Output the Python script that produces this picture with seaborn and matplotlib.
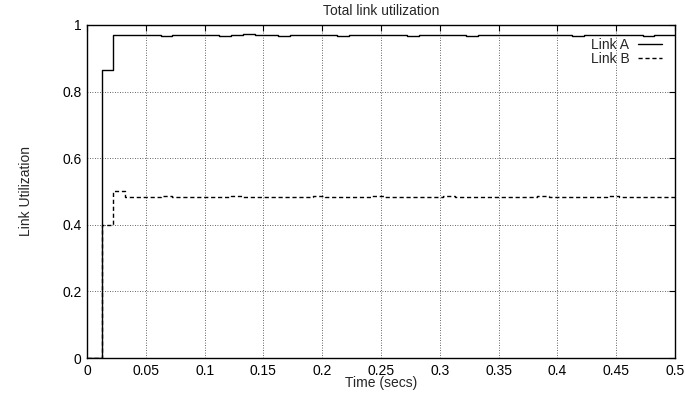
import matplotlib
matplotlib.use("Agg")
import matplotlib.pyplot as plt
import seaborn as sns
import pandas as pd

times = [0, 0.0125, 0.0225, 0.0325, 0.0425, 0.0525, 0.0625, 0.0725, 0.0825, 0.0925,
         0.1025, 0.1125, 0.1225, 0.1325, 0.1425, 0.1525, 0.1625, 0.1725, 0.1825, 0.1925,
         0.2025, 0.2125, 0.2225, 0.2325, 0.2425, 0.2525, 0.2625, 0.2725, 0.2825, 0.2925,
         0.3025, 0.3125, 0.3225, 0.3325, 0.3425, 0.3525, 0.3625, 0.3725, 0.3825, 0.3925,
         0.4025, 0.4125, 0.4225, 0.4325, 0.4425, 0.4525, 0.4625, 0.4725, 0.4825, 0.4925,
         0.5]
link_a = [0, 0.865, 0.970, 0.969, 0.971, 0.970, 0.968, 0.970, 0.971, 0.970,
          0.969, 0.967, 0.970, 0.972, 0.969, 0.970, 0.968, 0.970, 0.971, 0.969,
          0.970, 0.968, 0.970, 0.971, 0.970, 0.969, 0.970, 0.968, 0.971, 0.970,
          0.969, 0.970, 0.968, 0.970, 0.971, 0.970, 0.969, 0.970, 0.971, 0.969,
          0.970, 0.968, 0.971, 0.970, 0.969, 0.971, 0.970, 0.968, 0.970, 0.969,
          0.969]
link_b = [0, 0.400, 0.503, 0.482, 0.484, 0.483, 0.485, 0.482, 0.483, 0.484,
          0.482, 0.483, 0.485, 0.484, 0.482, 0.483, 0.484, 0.482, 0.483, 0.485,
          0.483, 0.482, 0.484, 0.483, 0.485, 0.482, 0.483, 0.484, 0.482, 0.483,
          0.485, 0.483, 0.482, 0.484, 0.483, 0.482, 0.484, 0.483, 0.485, 0.482,
          0.483, 0.484, 0.482, 0.483, 0.485, 0.484, 0.482, 0.483, 0.484, 0.482,
          0.482]
series_labels = ["Link A", "Link B"]
x_ticks = [0, 0.05, 0.1, 0.15, 0.2, 0.25, 0.3, 0.35, 0.4, 0.45, 0.5]
x_tick_labels = ["0", "0.05", "0.1", "0.15", "0.2", "0.25", "0.3", "0.35", "0.4", "0.45", "0.5"]
y_ticks = [0, 0.2, 0.4, 0.6, 0.8, 1.0]
y_tick_labels = ["0", "0.2", "0.4", "0.6", "0.8", "1"]

sns.set_style("white")
plt.rcParams["font.family"] = ["Liberation Sans", "DejaVu Sans"]
plt.rcParams["font.size"] = 10

fig = plt.figure(figsize=(6.85, 3.93), dpi=100)
ax = fig.add_axes([87 / 685, 35 / 393, 588 / 685, 333 / 393])

df = pd.DataFrame({"t": times, "a": link_a, "b": link_b})
sns.lineplot(data=df, x="t", y="a", ax=ax, color="black", linewidth=1.0,
             drawstyle="steps-post", label=series_labels[0], estimator=None)
sns.lineplot(data=df, x="t", y="b", ax=ax, color="black", linewidth=1.0,
             linestyle=(0, (3, 2)), drawstyle="steps-post", label=series_labels[1],
             estimator=None)

ax.set_xlim(0, 0.5)
ax.set_ylim(0, 1)
ax.set_xticks(x_ticks)
ax.set_xticklabels(x_tick_labels)
ax.set_yticks(y_ticks)
ax.set_yticklabels(y_tick_labels)
ax.tick_params(direction="in", top=True, right=True, length=4, width=0.8,
               labelsize=10, pad=4, colors="black")
ax.grid(True, linestyle=(0, (1, 2)), color="black", linewidth=0.6, alpha=0.8)
for s in ax.spines.values():
    s.set_color("black")
    s.set_linewidth(1.0)

ax.set_title("Total link utilization", fontsize=10, pad=7)
ax.set_xlabel("Time (secs)", fontsize=10, labelpad=-1)
ax.set_ylabel("Link Utilization", fontsize=10, labelpad=21)

leg = ax.legend(loc="upper right", frameon=False, markerfirst=False,
                handlelength=1.75, fontsize=10, labelspacing=0.05,
                borderaxespad=0, borderpad=0, handletextpad=0.6,
                bbox_to_anchor=(0.978, 0.962))

fig.savefig("out.png", dpi=100, facecolor="white")
